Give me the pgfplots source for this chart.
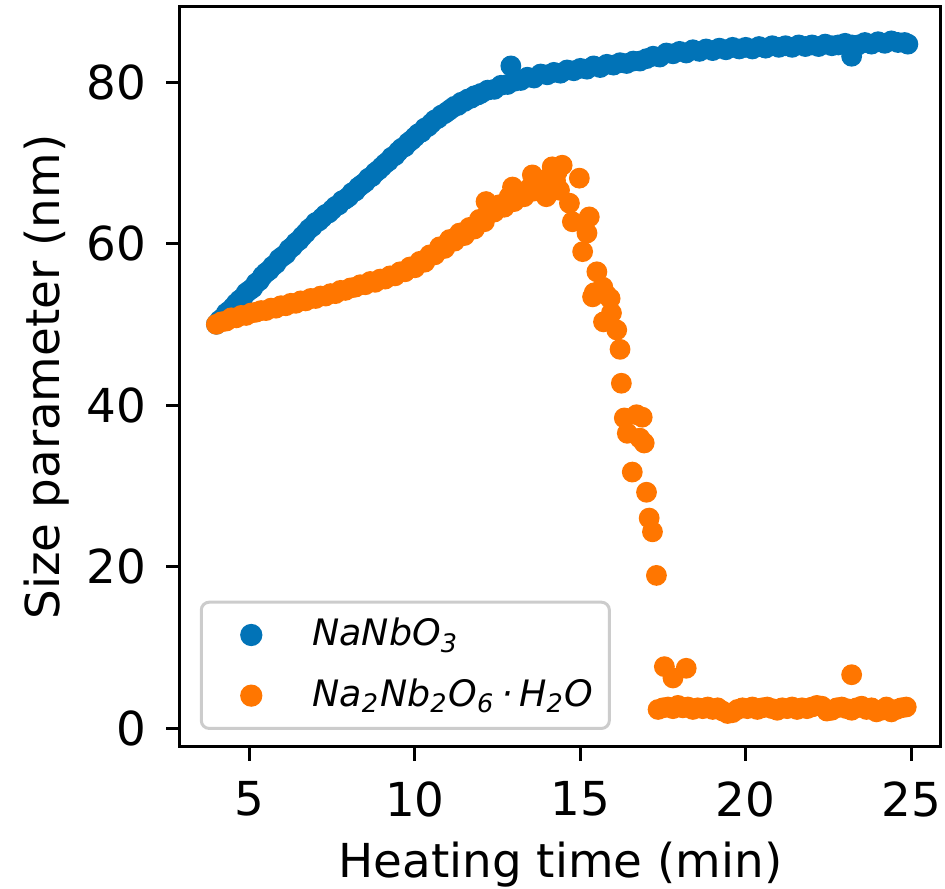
\documentclass[border=0pt]{standalone}
\usepackage{fontspec}
\setmainfont{DejaVu Sans}
\usepackage{pgfplots}
\pgfplotsset{compat=1.18}
\definecolor{cblue}{RGB}{1,115,183}
\definecolor{corange}{RGB}{255,118,0}
\begin{document}
\begin{tikzpicture}
\begin{axis}[
  scale only axis, width=190.25pt, height=185pt,
  xmin=2.9, xmax=25.9, ymin=-2.35, ymax=89.3,
  xtick={5,10,15,20,25}, ytick={0,20,40,60,80},
  tick pos=left,
  tick align=inside, major tick length=-3.5pt,
  axis line style={line width=0.75pt},
  every tick/.style={black, line width=0.75pt},
  /pgf/number format/assume math mode=true,
  tick label style={font=\fontsize{11.7}{14}\selectfont},
  xticklabel style={yshift=-5.1pt},
  yticklabel style={xshift=-4.85pt},
  label style={font=\fontsize{11.7}{14}\selectfont},
  xlabel={Heating time (min)}, ylabel={Size parameter (nm)},
  xlabel style={at={(axis description cs:0.5,-0.177)}, anchor=base},
  ylabel style={at={(axis description cs:-0.1577,0.5)}, anchor=base},
  legend cell align=left,
  legend style={at={(0.026,0.023)}, anchor=south west, draw=black!20, line width=0.75pt,
    rounded corners=2pt, fill=white, fill opacity=0.8, text opacity=1,
    inner xsep=2pt, inner ysep=2pt, row sep=2.75pt,
    font=\fontsize{9.1}{11}\selectfont},
  dotlegend/.style={legend image code/.code={\path[draw=none] (0,0) -- (23.75pt,0); \draw[##1, only marks, fill opacity=1, draw opacity=1] plot coordinates {(10.5pt,0pt)};}},
]
\addplot[only marks, mark=*, mark size=2.4pt, color=cblue, dotlegend] coordinates {
(4.0,50.0)(4.1,50.5)(4.2,50.8)(4.3,51.4)(4.4,51.7)(4.5,52.1)(4.6,52.6)(4.7,53.0)(4.8,53.3)(4.9,53.9)
(5.0,54.2)(5.1,54.5)(5.2,55.1)(5.3,55.4)(5.4,56.0)(5.5,56.4)(5.6,56.7)(5.7,57.2)(5.8,57.5)(5.9,58.1)
(6.0,58.4)(6.1,58.7)(6.2,59.3)(6.3,59.6)(6.4,60.1)(6.5,60.4)(6.6,60.9)(6.7,61.3)(6.8,61.8)(6.9,62.1)
(7.0,62.6)(7.1,62.8)(7.2,63.2)(7.3,63.6)(7.4,63.8)(7.5,64.2)(7.6,64.6)(7.7,64.8)(7.8,65.3)(7.9,65.5)
(8.0,65.8)(8.1,66.3)(8.2,66.5)(8.3,67.0)(8.4,67.3)(8.5,67.6)(8.6,68.1)(8.7,68.3)(8.8,68.8)(8.9,69.1)
(9.0,69.5)(9.1,69.9)(9.2,70.2)(9.3,70.7)(9.4,70.9)(9.5,71.4)(9.6,71.8)(9.7,72.0)(9.8,72.5)(9.9,72.8)
(10.0,73.2)(10.1,73.6)(10.2,73.8)(10.3,74.3)(10.4,74.5)(10.5,74.9)(10.6,75.3)(10.7,75.5)(10.8,75.9)(10.9,76.1)
(11.0,76.4)(11.1,76.7)(11.2,77.0)(11.3,77.1)(11.4,77.5)(11.5,77.6)(11.6,77.9)(11.7,78.0)(11.8,78.3)(11.9,78.4)
(12.0,78.6)(12.2,79.0)(12.4,79.1)(12.6,79.6)(12.8,79.7)(12.9,82.0)(13.0,80.1)(13.2,80.2)(13.4,80.6)(13.6,80.5)(13.8,81.0)
(14.0,80.9)(14.2,81.2)(14.4,81.1)(14.6,81.5)(14.8,81.4)(15.0,81.7)(15.2,81.6)(15.4,82.0)(15.6,81.8)(15.8,82.2)
(16.0,82.1)(16.2,82.4)(16.4,82.3)(16.6,82.6)(16.8,82.6)(17.0,82.9)(17.2,83.2)(17.4,83.1)(17.6,83.6)(17.8,83.5)
(18.0,83.8)(18.2,83.6)(18.4,84.0)(18.6,83.8)(18.8,84.1)(19.0,83.9)(19.2,84.2)(19.4,84.0)(19.6,84.3)(19.8,84.1)
(20.0,84.3)(20.2,84.1)(20.4,84.4)(20.6,84.2)(20.8,84.5)(21.0,84.3)(21.2,84.5)(21.4,84.3)(21.6,84.6)(21.8,84.4)
(22.0,84.6)(22.2,84.4)(22.4,84.7)(22.6,84.5)(22.8,84.6)(23.0,84.8)(23.2,83.2)(23.2,84.6)(23.4,84.6)(23.6,84.9)(23.8,84.7)
(24.0,85.0)(24.2,84.8)(24.4,85.1)(24.6,84.9)(24.8,84.9)(24.9,84.7)
};
\addlegendentry{\textit{NaNbO\textsubscript{3}}}
\addplot[only marks, mark=*, mark size=2.4pt, color=corange, dotlegend] coordinates {
(4.0,50.0)(4.15,50.3)(4.3,50.4)(4.45,50.8)(4.6,50.8)(4.75,51.1)(4.9,51.1)(5.05,51.4)(5.2,51.5)(5.35,51.7)
(5.5,51.7)(5.65,52.0)(5.8,52.0)(5.95,52.3)(6.1,52.3)(6.25,52.6)(6.4,52.6)(6.55,52.9)(6.7,52.9)(6.85,53.2)
(7.0,53.2)(7.15,53.5)(7.3,53.5)(7.45,53.8)(7.6,53.8)(7.75,54.2)(7.9,54.2)(8.05,54.5)(8.2,54.6)(8.35,54.9)
(8.5,54.9)(8.65,55.3)(8.8,55.2)(8.95,55.6)(9.1,55.6)(9.25,56.0)(9.4,56.0)(9.55,56.5)(9.7,56.5)(9.85,57.1)
(10.0,57.0)(10.15,57.8)(10.3,57.7)(10.45,58.6)(10.6,58.6)(10.75,59.6)(10.9,59.4)(11.05,60.5)(11.2,60.3)(11.35,61.3)
(11.5,61.0)(11.65,62.0)(11.8,61.8)(11.95,63.0)(12.1,62.7)(12.15,65.2)(12.4,63.9)(12.55,64.8)(12.7,64.5)(12.85,65.8)
(12.95,67.0)(13.0,65.2)(13.15,66.3)(13.3,65.8)(13.45,66.8)(13.55,68.5)(13.6,66.5)(13.75,67.3)(13.9,66.6)
(13.97,65.8)(14.05,68.2)(14.15,69.5)(14.25,67.8)(14.3,68.9)(14.37,66.6)(14.45,69.7)(14.67,65.0)(14.76,62.7)(14.97,68.1)
(15.07,59.0)(15.2,61.3)(15.27,63.3)(15.37,53.4)(15.42,53.9)(15.5,56.5)(15.68,54.6)(15.7,50.3)(15.8,53.6)(15.9,53.2)
(15.94,51.4)(16.1,49.3)(16.2,46.9)(16.24,42.7)(16.33,38.4)(16.42,36.5)(16.57,31.7)(16.7,38.8)(16.8,35.9)(16.87,38.5)
(16.93,35.3)(17.0,29.2)(17.08,26.0)(17.18,24.3)(17.3,18.9)(17.54,7.6)(17.8,6.2)(18.2,7.4)(23.2,6.6)
(17.35,2.3)(17.5,2.5)(17.65,2.6)(17.8,2.4)(17.95,2.8)(18.1,2.5)(18.25,2.6)(18.4,2.3)(18.55,2.5)(18.7,2.4)
(18.85,2.6)(19.0,2.3)(19.15,2.5)(19.3,2.1)(19.45,1.8)(19.6,1.9)(19.75,2.3)(19.9,2.5)(20.05,2.4)(20.2,2.6)
(20.35,2.3)(20.5,2.5)(20.65,2.6)(20.8,2.4)(20.95,2.2)(21.1,2.5)(21.25,2.4)(21.4,2.6)(21.55,2.3)(21.7,2.5)
(21.85,2.4)(22.0,2.6)(22.15,2.8)(22.3,2.7)(22.45,2.1)(22.6,2.2)(22.75,2.5)(22.9,2.6)(23.05,2.4)(23.2,2.2)
(23.35,2.5)(23.5,2.7)(23.65,2.3)(23.8,2.5)(23.95,2.0)(24.1,2.2)(24.25,2.6)(24.4,2.0)(24.55,2.3)(24.7,2.5)(24.85,2.6)
};
\addlegendentry{\textit{Na\textsubscript{2}Nb\textsubscript{2}O\textsubscript{6}\,·\,H\textsubscript{2}O}}
\coordinate (bl) at (rel axis cs:0,0);
\coordinate (tr) at (rel axis cs:1,1);
\end{axis}
\pgfresetboundingbox
\path ([shift={(-45pt,-35.5pt)}]bl) rectangle ([shift={(1pt,1.75pt)}]tr);
\end{tikzpicture}
\end{document}
